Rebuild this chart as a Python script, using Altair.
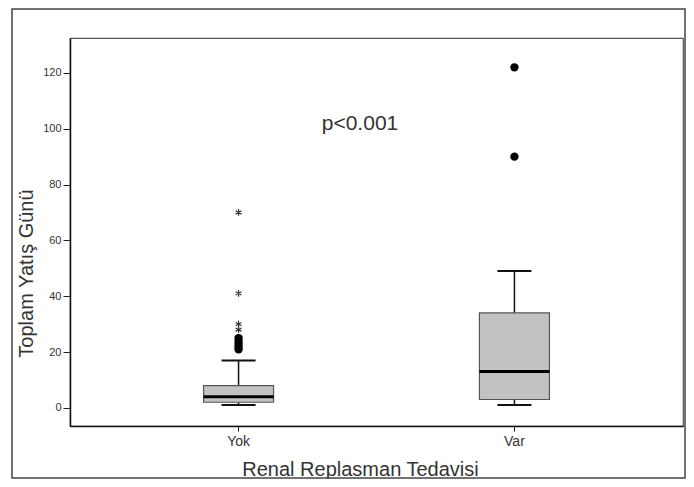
import altair as alt
import pandas as pd

groups = ["Yok", "Var"]
whisker_low = [1, 1]
q1 = [2, 3]
median = [4, 13]
q3 = [8, 34]
whisker_high = [17, 49]

circle_group = ["Yok", "Yok", "Yok", "Yok", "Yok", "Var", "Var"]
circle_value = [21, 22, 23, 24, 25, 90, 122]

star_group = ["Yok", "Yok", "Yok", "Yok"]
star_value = [28, 30, 41, 70]

y_ticks = [0, 20, 40, 60, 80, 100, 120]

box_df = pd.DataFrame({"g": groups, "lo": whisker_low, "q1": q1, "med": median,
                       "q3": q3, "hi": whisker_high})
circ_df = pd.DataFrame({"g": circle_group, "v": circle_value})
star_df = pd.DataFrame({"g": star_group, "v": star_value})

FONT = "Liberation Sans"

xs = alt.Scale(domain=groups, paddingInner=0, paddingOuter=0.111)
ys = alt.Scale(domain=[-6.5, 132.5], nice=False, zero=False)

x_enc = alt.X("g:N", scale=xs, sort=groups,
              axis=alt.Axis(title="Renal Replasman Tedavisi", labelAngle=0,
                            labelFontSize=14, labelFont=FONT, labelColor="#333",
                            tickSize=5, tickColor="#222", domainColor="#111",
                            domainWidth=1.5, labelPadding=3,
                            titleFont=FONT, titleFontSize=20, titleFontWeight="normal",
                            titleColor="#333", titleX=290, titleY=49,
                            titleAlign="center", titleBaseline="alphabetic"))
y_axis = alt.Axis(title="Toplam Yatış Günü", values=y_ticks, grid=False,
                  labelFontSize=11, labelFont=FONT, labelColor="#333",
                  tickSize=7, tickColor="#222", domainColor="#111", domainWidth=1.5,
                  labelPadding=2,
                  titleFont=FONT, titleFontSize=20, titleFontWeight="normal",
                  titleColor="#333", titleX=-38, titleY=235, titleAngle=-90,
                  titleAlign="center", titleBaseline="alphabetic")

base = alt.Chart(box_df)

upper_whisker = base.mark_rule(color="#111", strokeWidth=1.5).encode(
    x=x_enc, y=alt.Y("q3:Q", scale=ys, axis=y_axis), y2="hi:Q")
lower_whisker = base.mark_rule(color="#111", strokeWidth=1.5).encode(
    x=alt.X("g:N", scale=xs, sort=groups), y=alt.Y("lo:Q", scale=ys), y2="q1:Q")
box = base.mark_bar(width=70, color="#c2c2c2", stroke="#555", strokeWidth=1.2,
                    opacity=1).encode(
    x=alt.X("g:N", scale=xs, sort=groups), y=alt.Y("q1:Q", scale=ys), y2="q3:Q")
med = base.mark_tick(size=70, thickness=3, color="#000", orient="horizontal",
                     opacity=1).encode(
    x=alt.X("g:N", scale=xs, sort=groups), y=alt.Y("med:Q", scale=ys))
cap_hi = base.mark_tick(size=34, thickness=2, color="#111", orient="horizontal",
                        opacity=1).encode(
    x=alt.X("g:N", scale=xs, sort=groups), y=alt.Y("hi:Q", scale=ys))
cap_lo = base.mark_tick(size=34, thickness=2, color="#111", orient="horizontal",
                        opacity=1).encode(
    x=alt.X("g:N", scale=xs, sort=groups), y=alt.Y("lo:Q", scale=ys))

circles = alt.Chart(circ_df).mark_point(shape="circle", filled=True, size=70,
                                        color="#000", opacity=1).encode(
    x=alt.X("g:N", scale=xs, sort=groups), y=alt.Y("v:Q", scale=ys))

star_path = "M0,-1L0,1M-0.87,-0.5L0.87,0.5M-0.87,0.5L0.87,-0.5"
stars = alt.Chart(star_df).mark_point(shape=star_path, filled=False, size=45,
                                      stroke="#333", strokeWidth=1.2, opacity=1).encode(
    x=alt.X("g:N", scale=xs, sort=groups), y=alt.Y("v:Q", scale=ys))

ptext = alt.Chart(pd.DataFrame({"t": ["p<0.001"]})).mark_text(
    font=FONT, fontSize=21, color="#333", align="center", baseline="middle").encode(
    x=alt.value(290), y=alt.value(86), text="t:N")

border = alt.Chart(pd.DataFrame({"a": [0]})).mark_rect(
    filled=False, stroke="#444", strokeWidth=1.5).encode(
    x=alt.value(-58), x2=alt.value(615), y=alt.value(-29), y2=alt.value(440))

chart = alt.layer(upper_whisker, lower_whisker, box, med, cap_hi, cap_lo,
                  circles, stars, ptext, border).properties(
    width=613, height=388,
    autosize=alt.AutoSizeParams(type="none"),
    padding={"left": 62, "top": 30, "right": 3, "bottom": 53},
    view=alt.ViewBackground(stroke="#555", strokeWidth=1.2),
).configure_view(stroke="#555", strokeWidth=1.2).configure(background="white")

chart.save("out.html", embed_options={"renderer": "svg", "actions": False})
